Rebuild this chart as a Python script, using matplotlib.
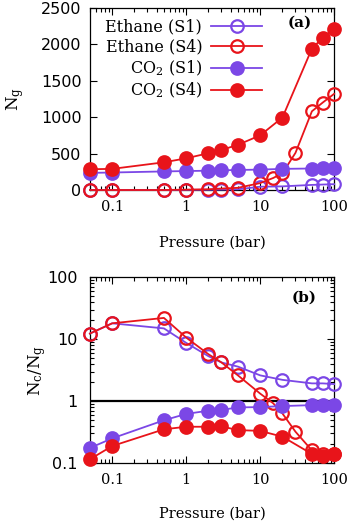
import matplotlib
matplotlib.use("Agg")
import matplotlib.pyplot as plt
from matplotlib.ticker import LogLocator, NullFormatter

# pressures (bar)
p = [0.05, 0.1, 0.5, 1, 2, 3, 5, 10, 20, 50, 70, 100]
p_eth4 = [0.05, 0.1, 0.5, 1, 2, 3, 5, 10, 15, 20, 30, 50, 70, 100]

# (a) number of molecules in gas phase
ng_eth_s1 = [0, 0, 0, 2, 4, 6, 10, 45, 50, 70, 75, 80]
ng_eth_s4 = [0, 0, 0, 5, 10, 20, 30, 95, 165, 230, 510, 1080, 1200, 1320]
ng_co2_s1 = [235, 240, 255, 260, 265, 270, 275, 280, 290, 295, 300, 300]
ng_co2_s4 = [285, 290, 380, 435, 505, 550, 620, 750, 995, 1940, 2090, 2215]

# (b) Nc/Ng ratio
r_eth_s1 = [12.3, 18, 14.9, 8.7, 5.3, 4.2, 3.6, 2.6, 2.2, 1.93, 1.93, 1.88]
r_eth_s4 = [12.3, 18, 22, 10.6, 5.7, 4.2, 2.6, 1.32, 0.92, 0.63, 0.32, 0.16, 0.14, 0.14]
r_co2_s1 = [0.175, 0.25, 0.49, 0.62, 0.70, 0.72, 0.79, 0.80, 0.83, 0.86, 0.86, 0.86]
r_co2_s4 = [0.115, 0.188, 0.35, 0.385, 0.385, 0.39, 0.34, 0.33, 0.266, 0.14, 0.13, 0.14]

xticks = [0.1, 1, 10, 100]
xtick_labels = ['0.1', '1', '10', '100']
yticks_a = [0, 500, 1000, 1500, 2000, 2500]
yticks_b = [0.1, 1, 10, 100]
ytick_labels_b = ['0.1', '1', '10', '100']

PURPLE = '#7b47e6'
RED = '#e8141a'

plt.rcParams['font.family'] = ['DejaVu Serif']
plt.rcParams['mathtext.fontset'] = 'dejavuserif'
plt.rcParams['font.size'] = 10.5

fig = plt.figure(figsize=(3.54, 5.22), dpi=100)
ax1 = fig.add_axes([0.254, 0.636, 0.690, 0.349])
ax2 = fig.add_axes([0.254, 0.113, 0.690, 0.356])

def draw(ax, x, y, color, filled, label=None):
    ax.plot(x, y, '-o', color=color, lw=1.3, ms=9, mew=1.6,
            mfc=color if filled else 'none', mec=color, clip_on=False,
            label=label, zorder=3)

draw(ax1, p, ng_eth_s1, PURPLE, False, 'Ethane (S1)')
draw(ax1, p_eth4, ng_eth_s4, RED, False, 'Ethane (S4)')
draw(ax1, p, ng_co2_s1, PURPLE, True, 'CO$_2$ (S1)')
draw(ax1, p, ng_co2_s4, RED, True, 'CO$_2$ (S4)')

draw(ax2, p, r_eth_s1, PURPLE, False)
draw(ax2, p_eth4, r_eth_s4, RED, False)
draw(ax2, p, r_co2_s1, PURPLE, True)
draw(ax2, p, r_co2_s4, RED, True)
ax2.axhline(1, color='black', lw=1.6, zorder=2)

for ax in (ax1, ax2):
    ax.set_xscale('log')
    ax.set_xlim(0.05, 100)
    ax.set_xticks(xticks, xtick_labels, fontsize=10.5)
    ax.xaxis.set_minor_locator(LogLocator(base=10, subs=range(2, 10)))
    ax.xaxis.set_minor_formatter(NullFormatter())
    ax.tick_params(which='both', direction='in', top=True, right=True, width=0.8)
    ax.tick_params(which='major', length=5)
    ax.tick_params(which='minor', length=3)
    ax.tick_params(axis='x', pad=7)
    for s in ax.spines.values():
        s.set_linewidth(0.9)

ax1.set_xlabel('Pressure (bar)', labelpad=16)
ax2.set_xlabel('Pressure (bar)', labelpad=14)

ax1.set_ylim(0, 2500)
ax1.set_yticks(yticks_a, [str(v) for v in yticks_a], fontfamily='DejaVu Sans', fontsize=11.5)
ax1.tick_params(axis='y', pad=6)
ax1.set_ylabel('N$_\\mathrm{g}$', fontsize=12)
ax1.yaxis.set_label_coords(-0.26, 0.5)
ax1.text(0.91, 0.918, '(a)', transform=ax1.transAxes, ha='right', va='center',
         fontweight='bold', fontsize=11)
ax1.legend(loc='upper right', bbox_to_anchor=(0.705, 0.94), frameon=False,
           markerfirst=False, handlelength=3.2, handletextpad=0.55,
           labelspacing=0.18, borderpad=0, borderaxespad=0, fontsize=11.5)

ax2.set_yscale('log')
ax2.set_ylim(0.1, 100)
ax2.set_yticks(yticks_b, ytick_labels_b, fontfamily='DejaVu Sans', fontsize=11.5)
ax2.yaxis.set_minor_locator(LogLocator(base=10, subs=range(2, 10)))
ax2.yaxis.set_minor_formatter(NullFormatter())
ax2.tick_params(axis='y', pad=9)
ax2.set_ylabel('N$_\\mathrm{c}$/N$_\\mathrm{g}$', fontsize=12)
ax2.yaxis.set_label_coords(-0.17, 0.5)
ax2.text(0.93, 0.892, '(b)', transform=ax2.transAxes, ha='right', va='center',
         fontweight='bold', fontsize=11)

fig.savefig('out.png', dpi=100)
